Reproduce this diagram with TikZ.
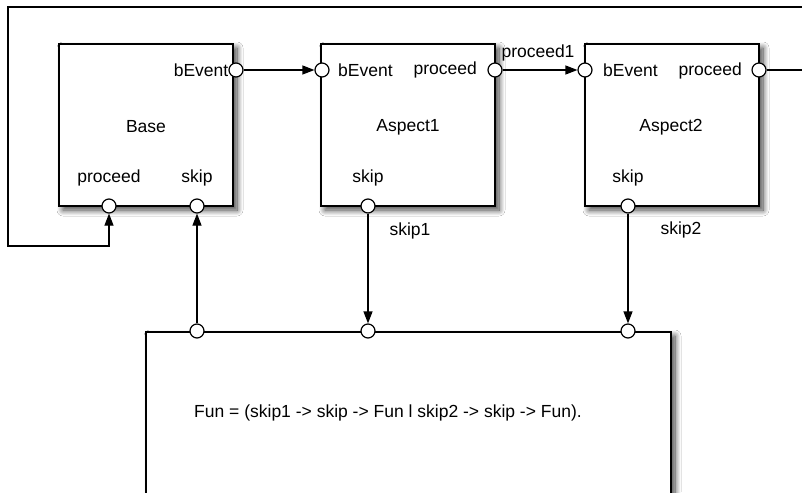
\documentclass[tikz,border=0pt]{standalone}
\usepackage{fontspec}
\setmainfont{Liberation Sans}
\usetikzlibrary{arrows.meta,shadows.blur}
\tikzset{
  block/.style={draw=black, line width=1.5pt, fill=white, minimum width=174pt,
    minimum height=162pt, inner sep=0pt,
    blur shadow={shadow xshift=4pt, shadow yshift=-4pt, shadow blur steps=12,
      shadow blur radius=6pt, shadow opacity=75}},
  port/.style={circle, draw=black, line width=1.2pt, fill=white,
    minimum size=14pt, inner sep=0pt},
  lbl/.style={font=\fontsize{17.5}{19}\selectfont, inner sep=0pt, text=black},
  arr/.style={line width=1.2pt, -{Triangle[length=12pt,width=9pt]}},
  wire/.style={line width=1.2pt}
}
\begin{document}
\begin{tikzpicture}[x=1pt,y=-1pt]
\useasboundingbox (0,0) rectangle (802,492);
\fill[white] (0,0) rectangle (802,492);

% component boxes
\node[block] (base) at (146,125) {};
\node[block] (asp1) at (408,125) {};
\node[block] (asp2) at (672,125) {};
\node[block, minimum width=525pt, minimum height=190pt] (fun) at (408.5,427) {};

% box captions
\node[lbl] (baseT) at (146,127) {Base};
\node[lbl] (asp1T) at (408,127) {Aspect1};
\node[lbl] (asp2T) at (671,127) {Aspect2};
\node[lbl] (funT) at (388,413) {Fun = (skip1 -> skip -> Fun l skip2 -> skip -> Fun).};

% ports
\node[port] (bbev) at (236,70) {};
\node[port] (bpro) at (109,206) {};
\node[port] (bskp) at (197,206) {};
\node[port] (a1bev) at (322,70) {};
\node[port] (a1pro) at (495,70) {};
\node[port] (a1skp) at (368,206) {};
\node[port] (a2bev) at (585,70) {};
\node[port] (a2pro) at (759,70) {};
\node[port] (a2skp) at (628,206) {};
\node[port] (fskp) at (197,331) {};
\node[port] (fskp1) at (368,331) {};
\node[port] (fskp2) at (628,331) {};

% port labels
\node[lbl, anchor=east] (bbevL) at (228.5,70) {bEvent};
\node[lbl] (bproL) at (109,178) {proceed};
\node[lbl] (bskpL) at (197,178) {skip};
\node[lbl, anchor=west] (a1bevL) at (338,70) {bEvent};
\node[lbl, anchor=east] (a1proL) at (477,70) {proceed};
\node[lbl] (a1skpL) at (368,178) {skip};
\node[lbl, anchor=west] (a2bevL) at (603,70) {bEvent};
\node[lbl, anchor=east] (a2proL) at (742,71) {proceed};
\node[lbl] (a2skpL) at (628,178) {skip};

% wire labels
\node[lbl] (p1L) at (538,53) {proceed1};
\node[lbl] (s1L) at (410,231) {skip1};
\node[lbl] (s2L) at (681,230) {skip2};

% connections
\draw[arr] (bbev) -- (a1bev);
\draw[arr] (a1pro) -- (a2bev);
\draw[arr] (a1skp) -- (fskp1);
\draw[arr] (a2skp) -- (fskp2);
\draw[arr] (fskp) -- (bskp);
\draw[arr] (a2pro) -- (815,70) -- (815,7) -- (8,7) -- (8,246) -| (bpro);
\end{tikzpicture}
\end{document}
